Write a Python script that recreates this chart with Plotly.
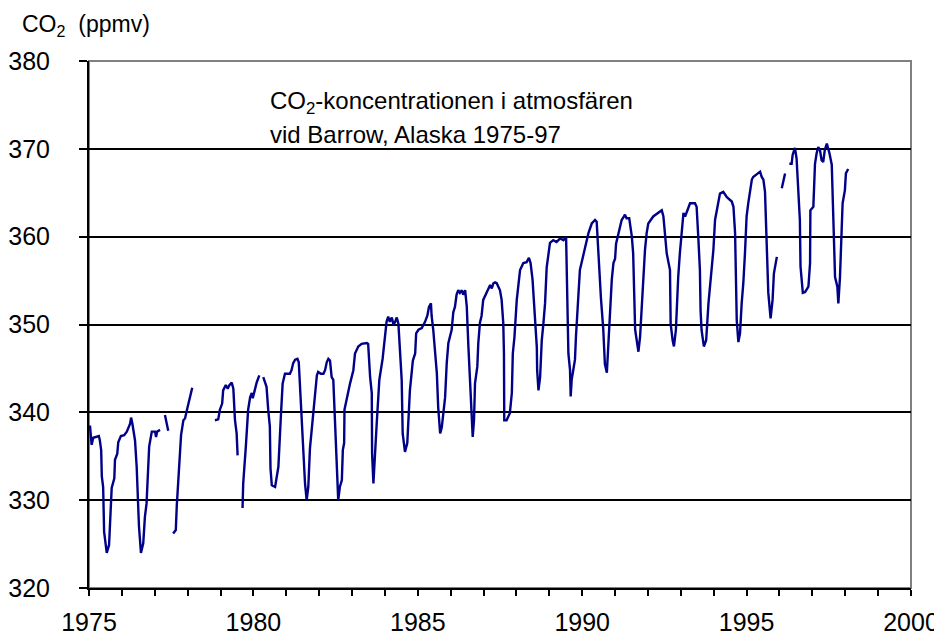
import plotly.graph_objects as go

# Decimal year and CO2 (ppmv) values; None = data gap
years = [
    1975.03, 1975.08, 1975.13, 1975.23, 1975.30, 1975.33, 1975.37, 1975.39, 1975.43, 1975.46,
    1975.54, 1975.61, 1975.67, 1975.69, 1975.77, 1975.79, 1975.86, 1975.89, 1975.97, 1976.07,
    1976.15, 1976.25, 1976.28, 1976.32, 1976.40, 1976.45, 1976.52, 1976.58, 1976.65, 1976.70,
    1976.75, 1976.80, 1976.83, 1976.91, 1977.01, 1977.04, 1977.07, 1977.16, 1977.20,
    1977.31, 1977.41, 1977.48,
    1977.56, 1977.64, 1977.67, 1977.74, 1977.80, 1977.87, 1977.92, 1978.00, 1978.07, 1978.14, 1978.50,
    1978.83, 1978.93, 1978.98, 1979.05, 1979.08, 1979.16, 1979.22, 1979.27, 1979.34, 1979.39,
    1979.44, 1979.49, 1979.52, 1979.60,
    1979.67, 1979.69, 1979.77, 1979.84, 1979.90, 1979.95, 1979.98, 1980.02, 1980.10, 1980.18, 1980.24,
    1980.30, 1980.40, 1980.45, 1980.50, 1980.52, 1980.56, 1980.66, 1980.76, 1980.84, 1980.89,
    1980.96, 1981.03, 1981.11, 1981.16, 1981.21, 1981.27, 1981.34, 1981.38, 1981.42, 1981.47,
    1981.57, 1981.62, 1981.67, 1981.72, 1981.82, 1981.87, 1981.93, 1981.97, 1982.05, 1982.13,
    1982.18, 1982.23, 1982.28, 1982.33, 1982.38, 1982.43, 1982.48, 1982.53, 1982.55, 1982.58,
    1982.63, 1982.69, 1982.72, 1982.76, 1982.77, 1982.84, 1982.94, 1983.04, 1983.09, 1983.19,
    1983.29, 1983.45, 1983.49, 1983.55, 1983.60, 1983.61, 1983.63, 1983.65, 1983.75, 1983.79,
    1983.83, 1983.93, 1984.00, 1984.05, 1984.10, 1984.15, 1984.21, 1984.26, 1984.31, 1984.36,
    1984.41, 1984.46, 1984.51, 1984.54, 1984.61, 1984.68, 1984.71, 1984.76, 1984.85, 1984.92,
    1984.95, 1985.02, 1985.12, 1985.22, 1985.29, 1985.34, 1985.40, 1985.42, 1985.47, 1985.58,
    1985.62, 1985.68, 1985.73, 1985.78, 1985.83, 1985.88, 1985.93, 1986.03, 1986.08, 1986.13,
    1986.18, 1986.23, 1986.28, 1986.34, 1986.38, 1986.44, 1986.49, 1986.54, 1986.59, 1986.64,
    1986.67, 1986.71, 1986.74, 1986.81, 1986.84, 1986.89, 1986.94, 1986.99, 1987.10, 1987.14,
    1987.20, 1987.25, 1987.30, 1987.35, 1987.40, 1987.50, 1987.55, 1987.60, 1987.62, 1987.63,
    1987.70, 1987.80, 1987.86, 1987.89, 1987.94, 1988.01, 1988.11, 1988.21, 1988.31, 1988.38,
    1988.43, 1988.49, 1988.56, 1988.62, 1988.63, 1988.67, 1988.72, 1988.77, 1988.82, 1988.87,
    1988.92, 1988.97, 1989.02, 1989.12, 1989.22, 1989.33, 1989.43, 1989.51, 1989.53, 1989.55,
    1989.58, 1989.63, 1989.65, 1989.68, 1989.78, 1989.81, 1989.88, 1989.93, 1990.09, 1990.19,
    1990.29, 1990.39, 1990.44, 1990.49, 1990.57, 1990.64, 1990.69, 1990.75, 1990.79, 1990.85,
    1990.90, 1990.95, 1991.00, 1991.03, 1991.10, 1991.15, 1991.20, 1991.27, 1991.30, 1991.35,
    1991.43, 1991.51, 1991.55, 1991.61, 1991.68, 1991.71, 1991.76, 1991.81, 1991.86, 1991.91,
    1991.96, 1992.01, 1992.16, 1992.31, 1992.42, 1992.47, 1992.57, 1992.67, 1992.69, 1992.75,
    1992.79, 1992.85, 1992.89, 1992.92, 1992.97, 1993.03, 1993.08, 1993.13, 1993.18, 1993.23,
    1993.28, 1993.43, 1993.48, 1993.53, 1993.58, 1993.60, 1993.63, 1993.70, 1993.77, 1993.84,
    1993.89, 1993.99, 1994.04, 1994.14, 1994.19, 1994.29, 1994.40, 1994.55, 1994.60, 1994.65,
    1994.70, 1994.75, 1994.80, 1994.85, 1994.90, 1994.95, 1995.00, 1995.05, 1995.10, 1995.16,
    1995.20, 1995.36, 1995.41, 1995.46, 1995.51, 1995.56, 1995.59, 1995.66, 1995.73, 1995.79,
    1995.83, 1995.92, 1996.00,
    1996.07, 1996.17, 1996.24,
    1996.30, 1996.37, 1996.40, 1996.47, 1996.52, 1996.57, 1996.62, 1996.64, 1996.71, 1996.78,
    1996.88, 1996.93, 1996.94, 1997.03, 1997.05, 1997.08, 1997.13, 1997.18, 1997.23, 1997.28,
    1997.33, 1997.38, 1997.44, 1997.52, 1997.59, 1997.62, 1997.66, 1997.69, 1997.76, 1997.79,
    1997.84, 1997.89, 1997.92, 1997.99, 1998.02, 1998.09,
]

co2 = [
    338.5, 336.3, 337.1, 337.2, 337.3, 336.8, 335.7, 332.7, 331.5, 326.4,
    324.0, 324.9, 328.9, 331.4, 332.5, 334.6, 335.3, 336.6, 337.3, 337.4,
    337.8, 338.7, 339.4, 338.7, 336.8, 333.8, 327.0, 324.0, 325.1, 328.1,
    329.6, 334.2, 336.1, 337.8, 337.8, 337.2, 337.8, 338.0, None,
    339.7, 337.9, None,
    326.2, 326.6, 329.4, 333.4, 337.4, 339.1, 339.3, 340.6, 341.8, 342.8, None,
    339.1, 339.2, 340.3, 341.0, 342.5, 343.1, 342.7, 343.1, 343.4, 342.7,
    339.1, 337.6, 335.1, None,
    329.1, 331.9, 336.1, 340.3, 341.7, 342.2, 341.6, 342.3, 343.4, 344.2, None,
    344.0, 342.9, 340.3, 338.4, 333.6, 331.7, 331.5, 333.8, 339.9, 343.3,
    344.4, 344.4, 344.4, 344.8, 345.6, 346.0, 346.1, 345.7, 342.5, 338.4,
    331.9, 330.0, 331.5, 335.9, 339.9, 342.5, 344.2, 344.6, 344.4, 344.4,
    344.8, 345.7, 346.1, 345.9, 344.0, 343.7, 338.7, 334.6, 331.7, 330.0,
    331.5, 332.3, 335.7, 336.5, 340.3, 341.6, 343.3, 344.8, 346.7, 347.5,
    347.8, 347.9, 347.8, 344.0, 342.2, 335.3, 334.2, 331.9, 338.7, 341.4,
    343.7, 346.1, 348.2, 350.3, 350.9, 350.3, 350.8, 350.0, 350.3, 350.8,
    350.1, 346.7, 343.7, 337.6, 335.5, 336.5, 339.1, 342.5, 345.9, 346.7,
    349.0, 349.4, 349.6, 350.3, 351.0, 352.0, 352.4, 351.0, 349.4, 344.4,
    340.6, 337.6, 338.3, 339.9, 341.7, 345.6, 347.9, 349.4, 351.4, 352.0,
    353.4, 353.9, 353.6, 353.9, 353.4, 353.9, 352.0, 347.4, 343.7, 339.1,
    337.2, 339.1, 343.3, 345.2, 347.9, 350.2, 351.0, 352.8, 353.6, 353.9,
    354.5, 354.1, 354.7, 354.8, 354.7, 353.9, 352.8, 350.1, 346.7, 339.1,
    339.1, 339.9, 342.2, 346.7, 348.6, 352.8, 356.2, 357.0, 357.1, 357.6,
    357.0, 355.1, 350.5, 347.4, 344.8, 342.5, 344.0, 348.2, 350.1, 352.4,
    356.5, 358.1, 359.3, 359.6, 359.4, 359.8, 359.6, 360.0, 355.1, 350.5,
    346.7, 344.8, 341.8, 343.7, 346.0, 348.6, 352.4, 356.2, 358.8, 360.4,
    361.5, 361.9, 361.7, 358.1, 353.0, 349.5, 345.5, 344.5, 347.8, 350.9,
    355.1, 357.0, 357.5, 359.2, 360.4, 360.9, 361.9, 362.3, 362.5, 362.1,
    362.1, 360.0, 358.1, 349.4, 347.5, 346.9, 348.6, 352.4, 356.2, 358.5,
    360.4, 361.5, 362.3, 362.7, 363.0, 362.3, 358.1, 356.2, 350.1, 348.2,
    347.5, 349.4, 353.2, 355.4, 358.1, 361.1, 362.7, 362.3, 362.8, 363.4,
    363.8, 363.8, 363.4, 360.0, 356.2, 351.6, 349.4, 347.5, 348.2, 352.4,
    354.7, 358.5, 361.9, 363.8, 364.9, 365.1, 364.5, 364.0, 363.4, 360.4,
    350.5, 348.0, 349.0, 352.4, 354.7, 358.1, 362.3, 363.8, 365.3, 366.5,
    366.8, 367.2, 367.4, 366.8, 366.5, 365.1, 361.1, 353.6, 350.7, 352.8,
    355.8, 357.7, None,
    365.5, 367.2, None,
    368.3, 368.3, 369.3, 370.1, 368.9, 365.3, 361.9, 356.6, 353.6, 353.7,
    354.3, 357.0, 363.0, 363.4, 365.3, 368.3, 369.5, 370.2, 369.9, 368.7,
    368.5, 369.9, 370.6, 369.5, 368.2, 364.5, 360.8, 355.4, 354.3, 352.4,
    355.4, 359.6, 363.8, 365.3, 367.2, 367.7,
]

x_tick_values = list(range(1975, 2001))
x_tick_labels = [str(y) if y % 5 == 0 else "" for y in x_tick_values]
y_tick_values = [320, 330, 340, 350, 360, 370, 380]
y_grid_values = [330, 340, 350, 360, 370]

title_line1 = "CO<sub>2</sub>-koncentrationen i atmosfären"
title_line2 = "vid Barrow, Alaska 1975-97"
y_unit_label = "CO<sub>2</sub>  (ppmv)"

FONT = "Liberation Sans, Arial, sans-serif"
CLEAR = "rgba(0,0,0,0)"

fig = go.Figure()
fig.add_trace(go.Scatter(
    x=years, y=co2, mode="lines",
    line=dict(color="#000088", width=2.4),
    connectgaps=False, hoverinfo="skip", showlegend=False,
))
# invisible trace bound to the overlay axis that carries the grid lines
fig.add_trace(go.Scatter(x=[None], y=[None], yaxis="y2", showlegend=False, hoverinfo="skip"))

fig.update_layout(
    width=934, height=631,
    margin=dict(l=81, r=31, t=53, b=51),
    paper_bgcolor="white", plot_bgcolor="white",
    font=dict(family=FONT, size=25, color="black"),
    showlegend=False,
    xaxis=dict(
        range=[1975, 2000], tickmode="array",
        tickvals=x_tick_values, ticktext=x_tick_labels,
        ticks="outside", ticklen=11, tickcolor=CLEAR,
        minor=dict(tickmode="array", tickvals=x_tick_values, ticks="outside",
                   ticklen=6, tickwidth=1.5, tickcolor="black", showgrid=False),
        showline=True, linecolor="black", linewidth=2,
        showgrid=False, zeroline=False, automargin=False,
        tickfont=dict(size=25),
    ),
    yaxis=dict(
        range=[320, 380], tickmode="array", tickvals=y_tick_values,
        ticks="outside", ticklen=32, tickcolor=CLEAR,
        minor=dict(tickmode="array", tickvals=y_tick_values, ticks="outside",
                   ticklen=8, tickwidth=1.5, tickcolor="black", showgrid=False),
        showline=True, linecolor="black", linewidth=2,
        showgrid=False, zeroline=False, automargin=False,
        tickfont=dict(size=25),
    ),
    yaxis2=dict(
        range=[320, 380], overlaying="y", side="left", tickmode="array",
        tickvals=y_grid_values, showgrid=True, gridcolor="black", gridwidth=2,
        showticklabels=False, ticks="", showline=False, zeroline=False,
        automargin=False,
    ),
    shapes=[dict(type="rect", xref="paper", yref="paper", x0=0, x1=1, y0=0, y1=1,
                 line=dict(color="#808080", width=2), layer="below")],
    annotations=[
        dict(text=y_unit_label, xref="paper", yref="paper", x=-0.084, y=1.068,
             xanchor="left", yanchor="middle", showarrow=False, font=dict(size=23)),
        dict(text=title_line1, xref="paper", yref="paper", x=0.218, y=0.922,
             xanchor="left", yanchor="middle", showarrow=False, font=dict(size=24)),
        dict(text=title_line2, xref="paper", yref="paper", x=0.218, y=0.86,
             xanchor="left", yanchor="middle", showarrow=False, font=dict(size=24)),
    ],
)

fig.write_html("out.html")
